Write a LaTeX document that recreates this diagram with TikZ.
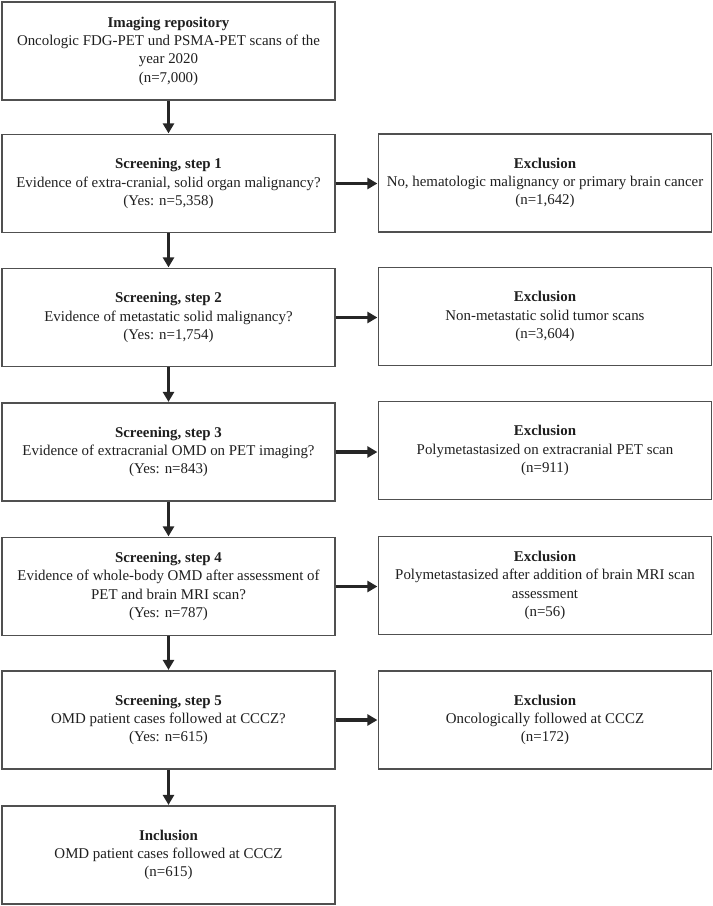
\documentclass[tikz,border=0pt]{standalone}
\usepackage{fontspec}
\setmainfont{Liberation Serif}
\usetikzlibrary{arrows.meta}
\definecolor{boxline}{HTML}{505050}
\definecolor{arrowc}{HTML}{262626}
\tikzset{
  flowbox/.style={draw=boxline, line width=1.2pt, fill=white, rectangle,
    minimum width=333pt, minimum height=98pt, align=center, inner sep=0pt,
    font=\fontsize{14.9}{18.3}\selectfont, text=black!88},
  flowarrow/.style={draw=arrowc, line width=3.2pt,
    -{Triangle[length=10pt,width=11pt]}, shorten >=0.5pt}
}
\begin{document}
\begin{tikzpicture}[x=1pt,y=-1pt]
\useasboundingbox (0,0) rectangle (713,906);
% left column
\node[flowbox] (repo) at (168.5,51) {\textbf{Imaging repository}\\Oncologic FDG-PET und PSMA-PET scans of the\\year 2020\\(n=7,000)};
\node[flowbox] (s1) at (168.5,183.5) {\textbf{Screening, step 1}\\Evidence of extra-cranial, solid organ malignancy?\\(Yes: n=5,358)};
\node[flowbox] (s2) at (168.5,317.5) {\textbf{Screening, step 2}\\Evidence of metastatic solid malignancy?\\(Yes: n=1,754)};
\node[flowbox] (s3) at (168.5,452) {\textbf{Screening, step 3}\\Evidence of extracranial OMD on PET imaging?\\(Yes: n=843)};
\node[flowbox] (s4) at (168.5,586.5) {\textbf{Screening, step 4}\\Evidence of whole-body OMD after assessment of\\PET and brain MRI scan?\\(Yes: n=787)};
\node[flowbox] (s5) at (168.5,720) {\textbf{Screening, step 5}\\OMD patient cases followed at CCCZ?\\(Yes: n=615)};
\node[flowbox] (inc) at (168.5,855) {\textbf{Inclusion}\\OMD patient cases followed at CCCZ\\(n=615)};
% right column
\node[flowbox] (e1) at (545,183) {\textbf{Exclusion}\\No, hematologic malignancy or primary brain cancer\\(n=1,642)};
\node[flowbox] (e2) at (545,316.5) {\textbf{Exclusion}\\Non-metastatic solid tumor scans\\(n=3,604)};
\node[flowbox] (e3) at (545,450.5) {\textbf{Exclusion}\\Polymetastasized on extracranial PET scan\\(n=911)};
\node[flowbox] (e4) at (545,585.5) {\textbf{Exclusion}\\Polymetastasized after addition of brain MRI scan\\assessment\\(n=56)};
\node[flowbox] (e5) at (545,720) {\textbf{Exclusion}\\Oncologically followed at CCCZ\\(n=172)};
% vertical arrows
\draw[flowarrow] (repo.south) -- (s1.north);
\draw[flowarrow] (s1.south) -- (s2.north);
\draw[flowarrow] (s2.south) -- (s3.north);
\draw[flowarrow] (s3.south) -- (s4.north);
\draw[flowarrow] (s4.south) -- (s5.north);
\draw[flowarrow] (s5.south) -- (inc.north);
% horizontal arrows
\draw[flowarrow] (s1.east) -- (e1.west |- s1.east);
\draw[flowarrow] (s2.east) -- (e2.west |- s2.east);
\draw[flowarrow] (s3.east) -- (e3.west |- s3.east);
\draw[flowarrow] (s4.east) -- (e4.west |- s4.east);
\draw[flowarrow] (s5.east) -- (e5.west |- s5.east);
\end{tikzpicture}
\end{document}
